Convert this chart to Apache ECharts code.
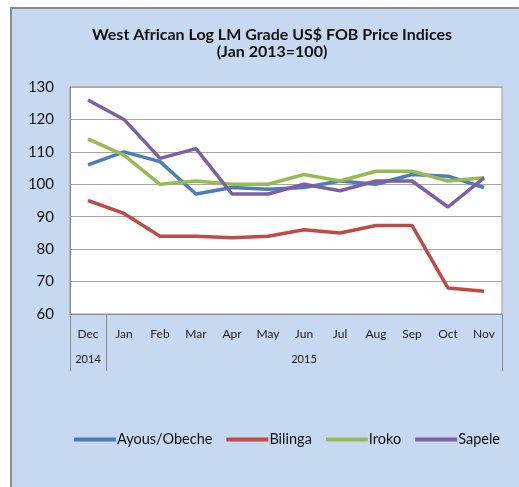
<!DOCTYPE html>
<html>
<head>
<meta charset="utf-8">
<script src="https://cdn.jsdelivr.net/npm/echarts@6/dist/echarts.min.js"></script>
<style>
	html, body { margin: 0; padding: 0; background: #fff; }
	#box { position: absolute; left: 10px; top: 7px; width: 520px; height: 490px;
		background: #c6d9f0; border-left: 2px solid #8c8c8c; border-top: 2px solid #8c8c8c; }
	#main { position: absolute; left: 0; top: 0; width: 519px; height: 487px; }
</style>
</head>
<body>
<div id="box"></div>
<div id="main"></div>
<script>
var months = ["Dec", "Jan", "Feb", "Mar", "Apr", "May", "Jun", "Jul", "Aug", "Sep", "Oct", "Nov"];
var years = ["2014", "2015"];
var yTicks = [60, 70, 80, 90, 100, 110, 120, 130];

var ayous = [106, 110, 107, 97, 99, 98.5, 99, 101, 100, 103, 102.5, 99];
var bilinga = [95, 91, 84, 84, 83.5, 84, 86, 85, 87.3, 87.3, 68, 67];
var iroko = [114, 109, 100, 101, 100, 100, 103, 101, 104, 104, 101, 102];
var sapele = [126, 120, 108, 111, 97, 97, 100, 98, 101, 101, 93, 102];

var seriesNames = ["Ayous/Obeche", "Bilinga", "Iroko", "Sapele"];
var seriesColors = ["#4a7ebb", "#be4b48", "#98b954", "#7d60a0"];

var font = "Lato, 'Open Sans', sans-serif";

function lineSeries(name, data, color) {
	return {
		name: name,
		type: "line",
		data: data,
		symbol: "none",
		smooth: false,
		color: color,
		lineStyle: { color: color, width: 3.5 }
	};
}

var option = {
	animation: false,
	textStyle: { fontFamily: font },
	title: {
		text: "West African Log LM Grade US$ FOB Price Indices\n(Jan 2013=100)",
		left: 267,
		top: 21,
		textAlign: "center",
		textStyle: { fontSize: 16, fontWeight: "bold", color: "#111", lineHeight: 17, fontFamily: font }
	},
	legend: {
		data: seriesNames,
		top: 432,
		left: 74,
		width: 460,
		icon: "rect",
		itemWidth: 42,
		itemHeight: 4,
		itemGap: 14,
		padding: 0,
		textStyle: { fontSize: 14.5, color: "#111", fontFamily: font, padding: [0, 0, 0, -4] }
	},
	grid: {
		left: 70,
		top: 87,
		right: 17,
		bottom: 173,
		show: true,
		backgroundColor: "#ffffff",
		borderColor: "#9a9a9a",
		borderWidth: 1
	},
	xAxis: [{
		type: "category",
		data: months,
		boundaryGap: true,
		axisLine: { show: true, lineStyle: { color: "#8c8c8c", width: 1 } },
		axisTick: { show: false },
		splitLine: { show: false },
		axisLabel: { color: "#222", fontSize: 12, margin: 14, interval: 0, fontFamily: font }
	}, {
		type: "value",
		min: 0,
		max: 12,
		position: "bottom",
		axisLine: { show: false },
		splitLine: { show: false },
		axisTick: {
			show: true,
			customValues: [0, 1, 12],
			length: 57,
			lineStyle: { color: "#8c8c8c", width: 1 }
		},
		axisLabel: {
			show: true,
			customValues: [0.5, 6.5],
			margin: 40,
			fontSize: 11,
			color: "#222",
			fontFamily: font,
			formatter: function (v) { return v < 1 ? years[0] : years[1]; }
		}
	}],
	yAxis: {
		type: "value",
		min: yTicks[0],
		max: yTicks[yTicks.length - 1],
		interval: 10,
		axisLine: { show: true, lineStyle: { color: "#8c8c8c" } },
		axisTick: { show: false },
		splitLine: { show: true, lineStyle: { color: "#a6a6a6", width: 1 } },
		axisLabel: { color: "#111", fontSize: 15, margin: 16, fontFamily: font }
	},
	series: [
		lineSeries(seriesNames[0], ayous, seriesColors[0]),
		lineSeries(seriesNames[1], bilinga, seriesColors[1]),
		lineSeries(seriesNames[2], iroko, seriesColors[2]),
		lineSeries(seriesNames[3], sapele, seriesColors[3])
	]
};

var myChart = echarts.init(document.getElementById("main"));
myChart.setOption(option);
</script>
</body>
</html>
